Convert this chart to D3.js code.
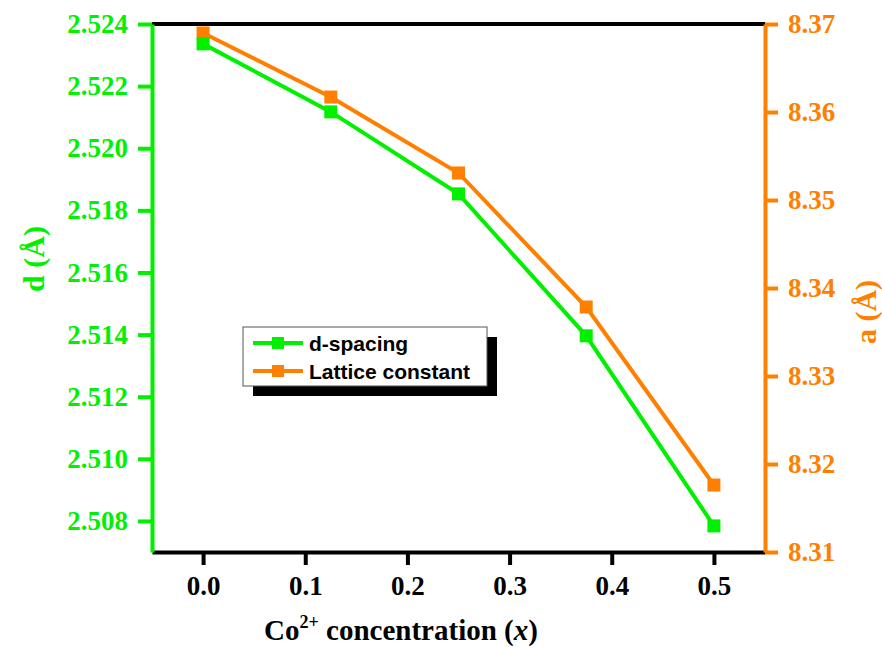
<!DOCTYPE html>
<html>
<head>
<meta charset="utf-8">
<script src="https://cdn.jsdelivr.net/npm/d3@7"></script>
<style>
body { margin: 0; background: #fff; }
svg { display: block; }
</style>
</head>
<body>
<div id="chart"></div>
<script>
// data
var conc = [0, 0.125, 0.25, 0.375, 0.5];
var dSpacing = [2.52336, 2.52117, 2.51853, 2.51396, 2.50784];
var latticeA = [8.36898, 8.3617, 8.35307, 8.33784, 8.31761];
var xTicks = [0, 0.1, 0.2, 0.3, 0.4, 0.5];
var dTicks = [2.508, 2.510, 2.512, 2.514, 2.516, 2.518, 2.520, 2.522, 2.524];
var aTicks = [8.31, 8.32, 8.33, 8.34, 8.35, 8.36, 8.37];

var green = "#00f000", orange = "#ff8000";
var serif = "Liberation Serif, Times New Roman, serif";
var width = 882, height = 649;
var plotL = 152, plotR = 765, plotT = 24, plotB = 552;

var svg = d3.select("#chart").append("svg")
    .attr("width", width).attr("height", height);

var x = d3.scaleLinear().domain([-0.05, 0.55]).range([plotL, plotR]);
var yD = d3.scaleLinear().domain([2.507, 2.524]).range([plotB, plotT]);
var yA = d3.scaleLinear().domain([8.31, 8.37]).range([plotB, plotT]);

// frame top
svg.append("line").attr("x1", plotL).attr("x2", plotR).attr("y1", plotT).attr("y2", plotT)
    .attr("stroke", "#000").attr("stroke-width", 4);

function styleAxis(g, color, size) {
    g.attr("font-family", null).attr("font-size", null);
    g.select(".domain").attr("stroke", color).attr("stroke-width", 4);
    g.selectAll(".tick line").attr("stroke", color).attr("stroke-width", 4);
    g.selectAll(".tick text").attr("fill", color)
        .style("font-family", serif).style("font-weight", "bold").style("font-size", size + "px");
}

var xAxis = svg.append("g").attr("transform", "translate(0," + plotB + ")")
    .call(d3.axisBottom(x).tickValues(xTicks).tickFormat(d3.format(".1f")).tickSize(13).tickSizeOuter(0).tickPadding(11));
styleAxis(xAxis, "#000", 27);

var dAxis = svg.append("g").attr("transform", "translate(" + plotL + ",0)")
    .call(d3.axisLeft(yD).tickValues(dTicks).tickFormat(d3.format(".3f")).tickSize(14).tickSizeOuter(0).tickPadding(10));
styleAxis(dAxis, green, 27);

var aAxis = svg.append("g").attr("transform", "translate(" + plotR + ",0)")
    .call(d3.axisRight(yA).tickValues(aTicks).tickFormat(d3.format(".2f")).tickSize(13).tickSizeOuter(0).tickPadding(10));
styleAxis(aAxis, orange, 27);

// series
function drawSeries(vals, y, color) {
    var pts = conc.map((c, i) => [c, vals[i]]);
    svg.append("path").datum(pts)
        .attr("fill", "none").attr("stroke", color).attr("stroke-width", 4)
        .attr("d", d3.line().x(d => x(d[0])).y(d => y(d[1])));
    svg.selectAll(null).data(pts).enter().append("rect")
        .attr("x", d => x(d[0]) - 6.5).attr("y", d => y(d[1]) - 6.5)
        .attr("width", 13).attr("height", 13).attr("fill", color);
}
drawSeries(latticeA, yA, orange);
drawSeries(dSpacing, yD, green);

// axis titles
svg.append("text")
    .attr("transform", "translate(401,640)")
    .attr("text-anchor", "middle")
    .style("font-family", serif).style("font-weight", "bold").style("font-size", "29px")
    .html("Co<tspan dy='-12' font-size='18'>2+</tspan><tspan dy='12'> concentration (</tspan><tspan font-style='italic'>x</tspan>)");

svg.append("text")
    .attr("transform", "translate(44,259) rotate(-90)")
    .attr("text-anchor", "middle").attr("fill", green)
    .style("font-family", serif).style("font-weight", "bold").style("font-size", "30px")
    .text("d (Å)");

svg.append("text")
    .attr("transform", "translate(876,312) rotate(-90)")
    .attr("text-anchor", "middle").attr("fill", orange)
    .style("font-family", serif).style("font-weight", "bold").style("font-size", "30px")
    .text("a (Å)");

// legend
var lg = svg.append("g").attr("transform", "translate(243,327)");
lg.append("rect").attr("x", 10).attr("y", 10).attr("width", 244).attr("height", 59).attr("fill", "#000");
lg.append("rect").attr("x", 0).attr("y", 0).attr("width", 244).attr("height", 59)
    .attr("fill", "#fff").attr("stroke", "#555").attr("stroke-width", 1);
var legendItems = [["d-spacing", green], ["Lattice constant", orange]];
legendItems.forEach(function (item, i) {
    var cy = 16 + i * 28;
    lg.append("line").attr("x1", 10).attr("x2", 60).attr("y1", cy).attr("y2", cy)
        .attr("stroke", item[1]).attr("stroke-width", 4);
    lg.append("rect").attr("x", 29).attr("y", cy - 6).attr("width", 12).attr("height", 12).attr("fill", item[1]);
    lg.append("text").attr("x", 66).attr("y", cy + 7.5)
        .style("font-family", "Liberation Sans, Arial, sans-serif")
        .style("font-weight", "bold").style("font-size", "21px")
        .text(item[0]);
});
</script>
</body>
</html>
